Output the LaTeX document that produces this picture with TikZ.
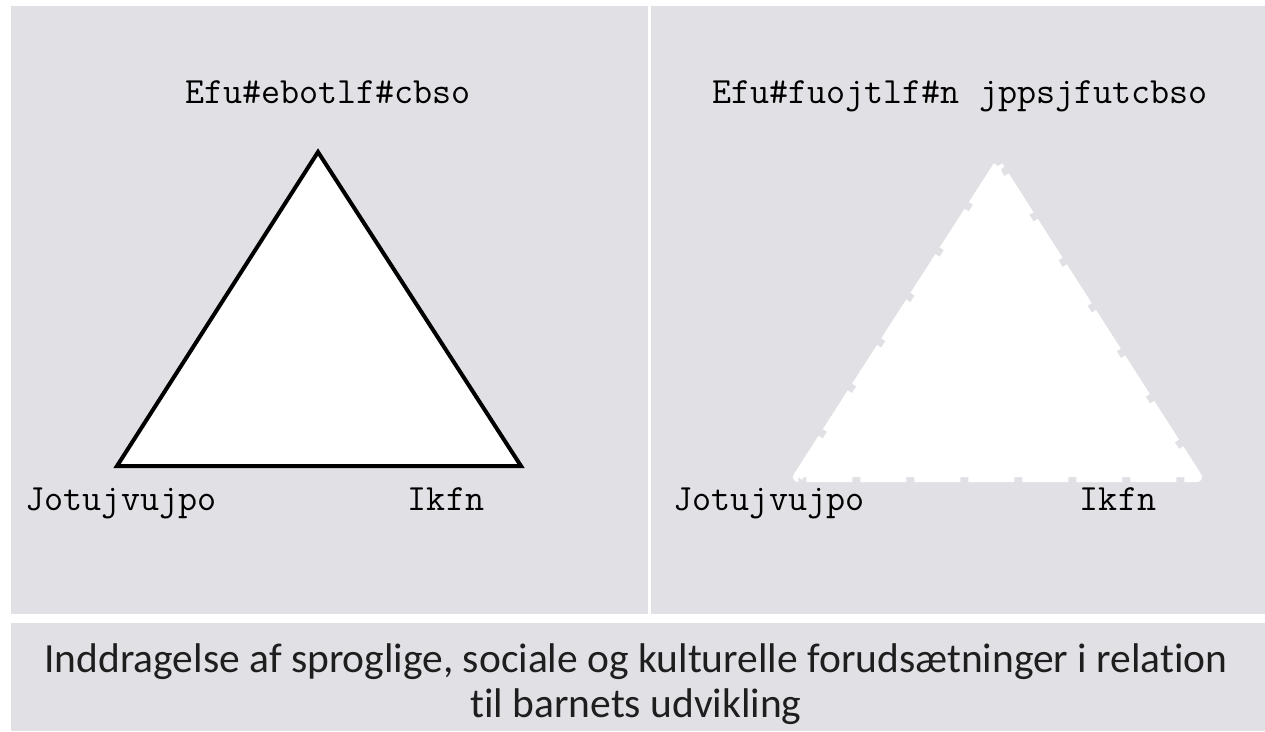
\documentclass[tikz,border=0pt]{standalone}
\usepackage{fontspec}
\setmainfont[Ligatures=NoCommon]{Carlito}
\definecolor{panel}{RGB}{225,224,229}
\definecolor{captxt}{RGB}{30,30,30}
\tikzset{
  panelbox/.style={fill=panel, draw=none},
  monolabel/.style={font=\ttfamily\fontsize{37}{40}\selectfont, anchor=base, inner sep=0pt},
  caption/.style={font=\fontsize{41.5}{45}\selectfont, align=center, text=captxt, inner sep=0pt},
}
\begin{document}
\begin{tikzpicture}[x=1pt,y=-1pt]
\useasboundingbox (0,0) rectangle (1265,731);
\fill[white] (0,0) rectangle (1265,731);
% panels
\path[panelbox] (11,6) rectangle (648,614);
\path[panelbox] (651,6) rectangle (1265,614);
\path[panelbox] (11,623) rectangle (1265,731);
% left triangle
\coordinate (LA) at (318,152);
\coordinate (LB) at (117,466);
\coordinate (LC) at (521,466);
\draw[line width=4pt, fill=white, line join=miter] (LA) -- (LB) -- (LC) -- cycle;
% right triangle
\coordinate (RA) at (998,166);
\coordinate (RB) at (798,477);
\coordinate (RC) at (1197,477);
\fill[white] (RA) -- (RB) -- (RC) -- cycle;
\draw[white, line width=10pt, dash pattern=on 46pt off 8pt, line join=round] (RA) -- (RB) -- (RC) -- cycle;
% labels
\node[monolabel] (t1) at (328,103) {Efu\#ebotlf\#cbso};
\node[monolabel] (t2) at (960,103) {Efu\#fuojtlf\#n jppsjfutcbso};
\node[monolabel] (l1) at (121,510) {Jotujvujpo};
\node[monolabel] (l2) at (446,510) {Ikfn};
\node[monolabel] (r1) at (769,510) {Jotujvujpo};
\node[monolabel] (r2) at (1118,510) {Ikfn};
% caption
\node[caption] (cap) at (636,684) {Inddragelse af sproglige, sociale og kulturelle forudsætninger i relation\\til barnets udvikling};
\end{tikzpicture}
\end{document}
